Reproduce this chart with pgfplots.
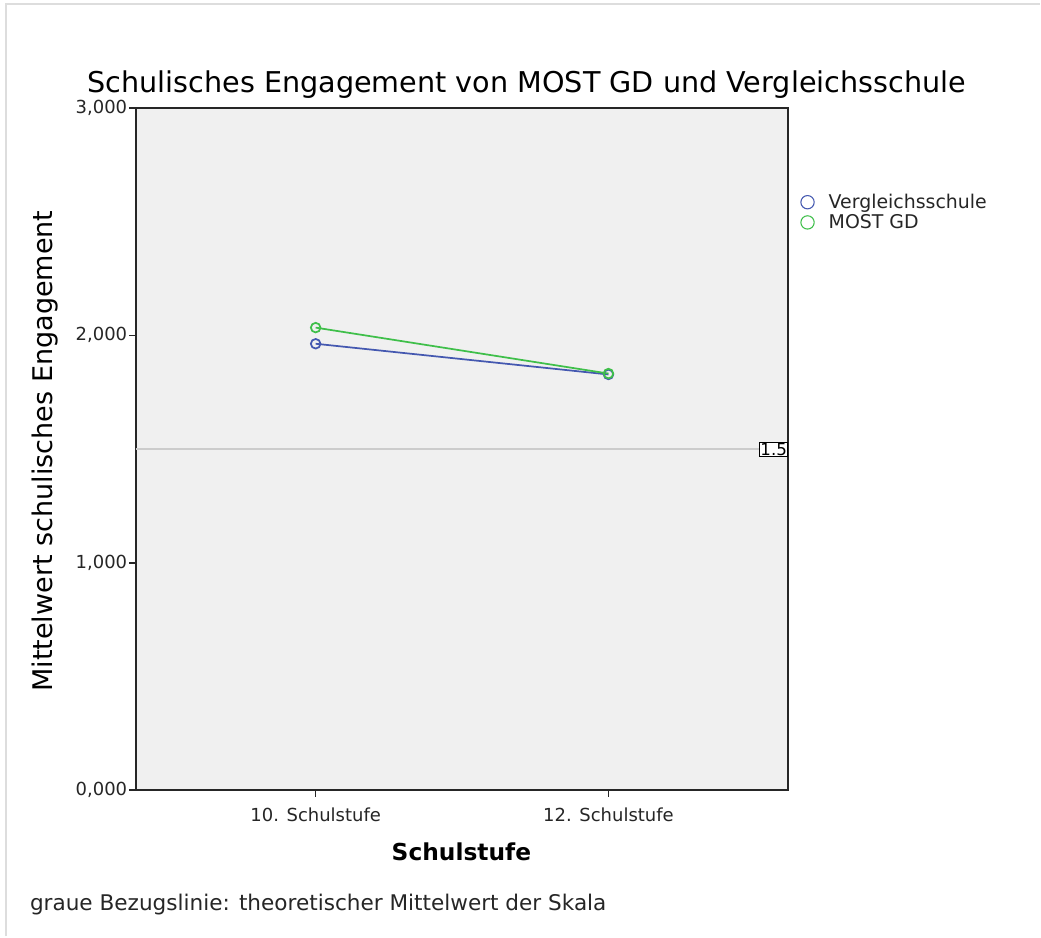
\documentclass[border=0pt]{standalone}
\usepackage{pgfplots}
\pgfplotsset{compat=1.18}
\usepackage{fontspec}
\setmainfont{DejaVu Sans}
\definecolor{bgc}{HTML}{F0F0F0}
\definecolor{sblue}{HTML}{4458B0}
\definecolor{sgreen}{HTML}{3FBF4A}
\definecolor{frame}{HTML}{DDDDDD}
\begin{document}
\begin{tikzpicture}
% page
\fill[white] (0pt,0pt) rectangle (780.75pt,-702.75pt);
\draw[frame,line width=1.5pt] (4.5pt,-702.75pt) -- (4.5pt,-3pt) -- (780.75pt,-3pt);
\begin{axis}[
  at={(102pt,-593.25pt)}, anchor=south west,
  width=489.75pt, height=512.25pt, scale only axis,
  xmin=-0.614, xmax=1.614, ymin=0, ymax=3,
  axis background/.style={fill=bgc},
  axis line style={line width=1.2pt, black!85},
  xtick={0,1}, xticklabels={10. Schulstufe,12. Schulstufe},
  ytick={0,1,2,3}, yticklabels={{0,000},{1,000},{2,000},{3,000}},
  tick align=outside, tick pos=left,
  major tick length=5pt,
  tick style={line width=1.2pt, black!85},
  ticklabel style={font=\fontsize{13.5}{15}\selectfont, text=black!85},
  xticklabel style={yshift=-5pt},
  yticklabel style={xshift=2pt, inner ysep=0pt},
  title={Schulisches Engagement von MOST GD und Vergleichsschule},
  title style={font=\fontsize{21.5}{24}\selectfont, at={(0.599,1)}, inner sep=0pt, text depth=0pt, yshift=5.5pt},
  xlabel={\textbf{Schulstufe}},
  xlabel style={font=\fontsize{17.5}{20}\selectfont, at={(axis description cs:0.499,-0.0908)}, anchor=center},
  ylabel={Mittelwert schulisches Engagement},
  ylabel style={font=\fontsize{20.3}{23}\selectfont, at={(axis description cs:-0.1394,0.497)}, anchor=center},
  legend style={at={(1.012,0.881)}, anchor=north west, draw=none, fill=none,
    font=\fontsize{14.2}{16}\selectfont, row sep=0pt,
    nodes={inner sep=1.5pt, text=black!85}},
  legend cell align=left,
  clip=false,
]
\draw[black!20, line width=1pt] (axis cs:-0.614,1.5) -- (axis cs:1.614,1.5);
\node[draw=black, line width=0.8pt, fill=white, inner sep=0.6pt, anchor=east,
  font=\fontsize{12.5}{13}\selectfont] at (axis cs:1.614,1.5) {1.5};
\addplot[sblue, line width=1.3pt, mark=o, mark size=3.6pt,
  legend image code/.code={\draw[sblue,line width=0.8pt] (0.25cm,0cm) circle (5pt);}]
  coordinates {(0,1.963) (1,1.828)};
\addlegendentry{\hspace*{9pt}Vergleichsschule}
\addplot[sgreen, line width=1.3pt, mark=o, mark size=3.6pt,
  legend image code/.code={\draw[sgreen,line width=0.8pt] (0.25cm,0cm) circle (5pt);}]
  coordinates {(0,2.034) (1,1.832)};
\addlegendentry{\hspace*{9pt}MOST GD}
\end{axis}
\node[anchor=west, font=\fontsize{16.2}{18}\selectfont, text=black!85] at (19pt,-679pt) {graue Bezugslinie: theoretischer Mittelwert der Skala};
\end{tikzpicture}
\end{document}
